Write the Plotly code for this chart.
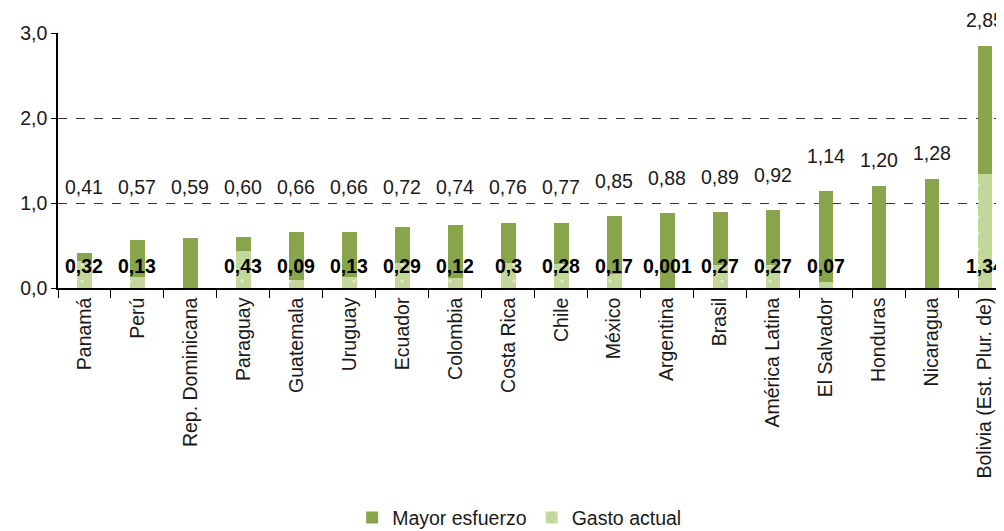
import plotly.graph_objects as go

categories = ["Panamá", "Perú", "Rep. Dominicana", "Paraguay", "Guatemala", "Uruguay",
              "Ecuador", "Colombia", "Costa Rica", "Chile", "México", "Argentina",
              "Brasil", "América Latina", "El Salvador", "Honduras", "Nicaragua",
              "Bolivia (Est. Plur. de)"]
totals = [0.41, 0.57, 0.59, 0.60, 0.66, 0.66, 0.72, 0.74, 0.76, 0.77, 0.85, 0.88,
          0.89, 0.92, 1.14, 1.20, 1.28, 2.85]
gasto_actual = [0.32, 0.13, 0.0, 0.43, 0.09, 0.13, 0.29, 0.12, 0.30, 0.28, 0.17, 0.001,
                0.27, 0.27, 0.07, 0.0, 0.0, 1.34]
gasto_labels = ["0,32", "0,13", "", "0,43", "0,09", "0,13", "0,29", "0,12", "0,3", "0,28",
                "0,17", "0,001", "0,27", "0,27", "0,07", "", "", "1,34"]
mayor_esfuerzo = [round(t - g, 3) for t, g in zip(totals, gasto_actual)]

DARK = "#88A54B"
LIGHT = "#C4D79B"
FONT = "Liberation Sans, Arial, sans-serif"

fig = go.Figure()
fig.add_trace(go.Bar(
    x=categories, y=gasto_actual, name="Gasto actual",
    marker=dict(color=LIGHT, line=dict(width=0),
                pattern=dict(shape=".", fgcolor="white", bgcolor=LIGHT, size=16, solidity=0.03)),
))
fig.add_trace(go.Bar(
    x=categories, y=mayor_esfuerzo, name="Mayor esfuerzo",
    marker=dict(color=DARK, line=dict(width=0)),
))

annotations = []
for c, t in zip(categories, totals):
    annotations.append(dict(
        x=c, y=max(t, 0.78), xref="x", yref="y", text=f"{t:.2f}".replace(".", ","),
        showarrow=False, yanchor="bottom", yshift=22 if t < 1.15 else 13,
        font=dict(family=FONT, size=19.5, color="#1a1a1a")))
for c, lab in zip(categories, gasto_labels):
    if lab:
        annotations.append(dict(
            x=c, y=0.26, xref="x", yref="y", text=f"<b>{lab}</b>",
            showarrow=False, yanchor="middle",
            font=dict(family=FONT, size=19.5, color="black")))

# page body has an 8px default margin: shift the figure accordingly
fig.update_layout(
    barmode="stack",
    bargap=0.72,
    width=996, height=523,
    margin=dict(l=50, r=0, t=25, b=243, autoexpand=False),
    paper_bgcolor="white", plot_bgcolor="white",
    font=dict(family=FONT, size=19.5, color="#1a1a1a"),
    separators=",.",
    showlegend=True,
    legend=dict(orientation="h", traceorder="reversed", x=0.488, xanchor="center",
                y=-0.825, yanchor="top", font=dict(size=19.5), itemwidth=30,
                bgcolor="rgba(0,0,0,0)"),
    annotations=annotations,
)
fig.update_xaxes(
    range=[-0.5, 17.36], showline=True, linecolor="black", linewidth=1.5,
    ticks="outside", tickson="boundaries", ticklen=8, tickcolor="black",
    tickangle=-90, showgrid=False, automargin=False,
)
fig.update_yaxes(
    range=[0, 3], dtick=1, tickformat=".1f", showline=True, linecolor="black", linewidth=1.5,
    ticks="outside", ticklen=5, tickcolor="black", automargin=False,
    showgrid=True, gridcolor="#333333", griddash="dash", gridwidth=1, zeroline=False,
)

fig.write_html("out.html")
